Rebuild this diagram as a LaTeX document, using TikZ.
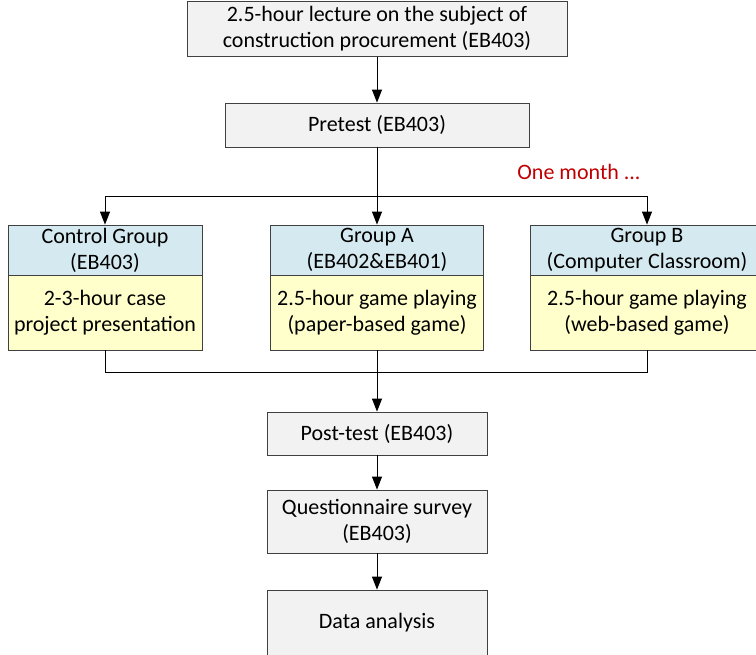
\documentclass[tikz,border=0pt]{standalone}
\usepackage{fontspec}
\setmainfont{Carlito}
\usetikzlibrary{arrows.meta,calc}
\definecolor{boxgray}{HTML}{F2F2F2}
\definecolor{hdrblue}{HTML}{D5EAF0}
\definecolor{bodyyellow}{HTML}{FFFFCC}
\definecolor{linegray}{HTML}{404040}
\definecolor{monthred}{HTML}{C00000}
\tikzset{
  box/.style={draw=linegray, line width=0.8pt, fill=boxgray, align=center, inner sep=0pt},
  hdr/.style={box, fill=hdrblue},
  body/.style={box, fill=bodyyellow},
  conn/.style={draw=black, line width=1pt},
  arr/.style={conn, -{Triangle[length=13pt,width=10pt]}},
}
\begin{document}
\begin{tikzpicture}[x=1pt,y=-1pt, every node/.style={font=\fontsize{22}{26}\selectfont}]
\useasboundingbox (0,0) rectangle (756,655);
% main column
\node[box, minimum width=380pt, minimum height=55pt] (top) at (377,29) {2.5-hour lecture on the subject of\\construction procurement (EB403)};
\node[box, minimum width=304pt, minimum height=44pt] (pre) at (377,125) {Pretest (EB403)};
% groups
\node[hdr, minimum width=194pt, minimum height=50pt] (Ch) at (105,250) {Control Group\\(EB403)};
\node[body, minimum width=194pt, minimum height=75pt] (Cb) at (105,312.5) {2-3-hour case\\project presentation};
\node[hdr, minimum width=213pt, minimum height=50pt] (Ah) at (377,250) {Group A\\(EB402\&EB401)};
\node[body, minimum width=213pt, minimum height=75pt] (Ab) at (377,312.5) {2.5-hour game playing\\(paper-based game)};
\node[hdr, minimum width=234pt, minimum height=50pt] (Bh) at (647,250) {Group B\\(Computer Classroom)};
\node[body, minimum width=234pt, minimum height=75pt] (Bb) at (647,312.5) {2.5-hour game playing\\(web-based game)};
\node[text=monthred] (om) at (579,172) {One month ...};
% lower column
\node[box, minimum width=220pt, minimum height=43pt] (post) at (377,433.5) {Post-test (EB403)};
\node[box, minimum width=220pt, minimum height=63pt] (quest) at (377,521.5) {Questionnaire survey\\(EB403)};
\node[box, minimum width=220pt, minimum height=66pt] (data) at (377,623) {Data analysis};
% connectors
\coordinate (j) at (377,197);
\coordinate (m) at (377,373);
\draw[arr] (top.south) -- (pre.north);
\draw[conn] (pre.south) -- (j);
\draw[arr] (j) -- (Ah.north);
\draw[arr] (j) -| (Ch.north);
\draw[arr] (j) -| (Bh.north);
\draw[conn] (Cb.south) |- (m);
\draw[conn] (Bb.south) |- (m);
\draw[arr] (Ab.south) -- (post.north);
\draw[arr] (post.south) -- (quest.north);
\draw[arr] (quest.south) -- (data.north);
\end{tikzpicture}
\end{document}
